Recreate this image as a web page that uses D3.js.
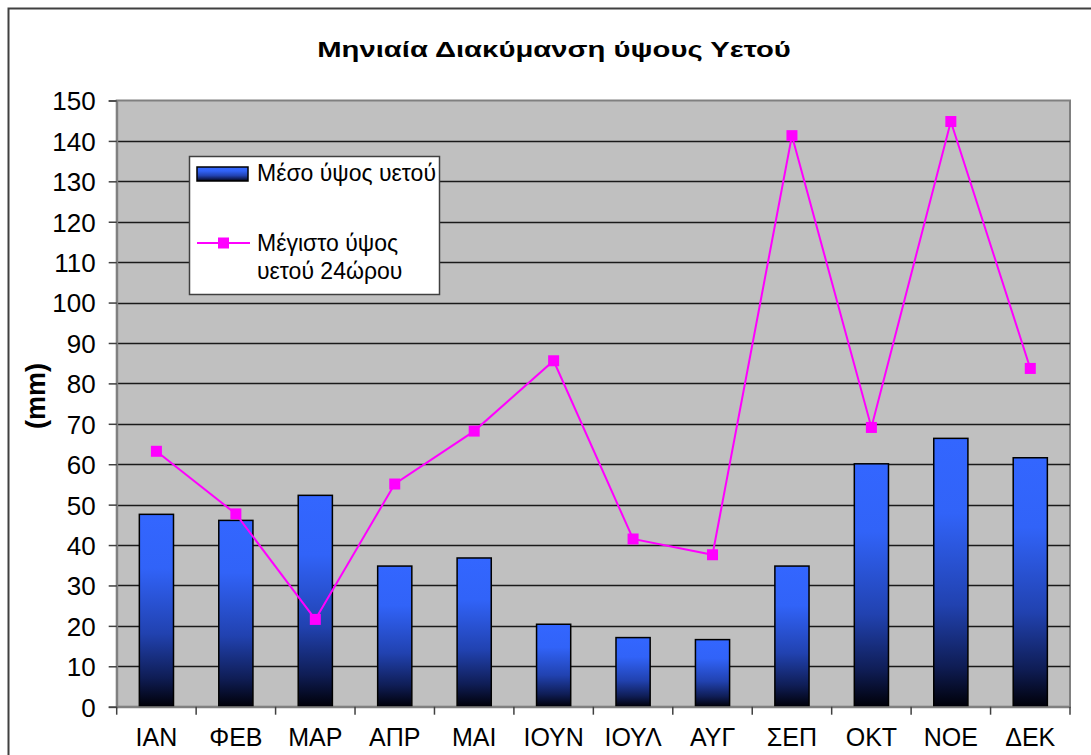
<!DOCTYPE html>
<html>
<head>
<meta charset="utf-8">
<script src="https://cdn.jsdelivr.net/npm/d3@7"></script>
<style>
  body { margin: 0; background: #fff; }
  svg { display: block; font-family: Arial, 'Liberation Sans', sans-serif; }
</style>
</head>
<body>
<svg id="chart"></svg>
<script>
const months = ['ΙΑΝ', 'ΦΕΒ', 'ΜΑΡ', 'ΑΠΡ', 'ΜΑΙ', 'ΙΟΥΝ', 'ΙΟΥΛ', 'ΑΥΓ', 'ΣΕΠ', 'ΟΚΤ', 'ΝΟΕ', 'ΔΕΚ'];
const meanRain = [47.6, 46.1, 52.3, 34.8, 36.8, 20.4, 17.1, 16.6, 34.8, 60.1, 66.4, 61.6];
const maxRain24h = [63.2, 47.7, 21.6, 55.1, 68.2, 85.6, 41.5, 37.6, 141.3, 69.1, 144.8, 83.7];
const yTicks = d3.range(0, 151, 10);

const title = 'Μηνιαία Διακύμανση ύψους Υετού';
const yTitle = '(mm)';
const legendBar = 'Μέσο ύψος υετού';
const legendLine = ['Μέγιστο ύψος', 'υετού 24ώρου'];

const width = 1091;
const height = 755;
const plotLeft = 116.7;
const plotRight = 1070;
const plotTop = 100.5;
const plotBottom = 706.7;

const svg = d3.select('#chart')
    .attr('width', width)
    .attr('height', height);

// outer frame of the chart object
svg.append('rect')
    .attr('x', 8.5).attr('y', 8.5)
    .attr('width', 1100).attr('height', 780)
    .attr('fill', '#fff')
    .attr('stroke', '#404040')
    .attr('stroke-width', 2);

const defs = svg.append('defs');
const grad = defs.append('linearGradient')
    .attr('id', 'barGrad')
    .attr('x1', 0).attr('y1', 0).attr('x2', 0).attr('y2', 1);
grad.append('stop').attr('offset', '0%').attr('stop-color', '#3366ff');
grad.append('stop').attr('offset', '28%').attr('stop-color', '#3163f8');
grad.append('stop').attr('offset', '62%').attr('stop-color', '#2142b0');
grad.append('stop').attr('offset', '85%').attr('stop-color', '#0f1d55');
grad.append('stop').attr('offset', '100%').attr('stop-color', '#000008');

const x = d3.scaleBand()
    .domain(months)
    .range([plotLeft, plotRight])
    .paddingInner(0.57)
    .paddingOuter(0.285);
const y = d3.scaleLinear()
    .domain([0, 150])
    .range([plotBottom, plotTop]);

// plot area
svg.append('rect')
    .attr('x', plotLeft).attr('y', plotTop)
    .attr('width', plotRight - plotLeft).attr('height', plotBottom - plotTop)
    .attr('fill', '#c0c0c0')
    .attr('stroke', '#808080')
    .attr('stroke-width', 2);

svg.append('g')
    .selectAll('line')
    .data(yTicks.slice(1, -1))
    .join('line')
    .attr('x1', plotLeft).attr('x2', plotRight)
    .attr('y1', (d) => Math.round(y(d)) + 0.5)
    .attr('y2', (d) => Math.round(y(d)) + 0.5)
    .attr('stroke', '#1a1a1a')
    .attr('stroke-width', 1.4);

// bars
svg.append('g')
    .selectAll('rect')
    .data(meanRain)
    .join('rect')
    .attr('x', (d, i) => x(months[i]))
    .attr('y', (d) => y(d))
    .attr('width', x.bandwidth())
    .attr('height', (d) => y(0) - y(d))
    .attr('fill', 'url(#barGrad)')
    .attr('stroke', '#000')
    .attr('stroke-width', 1.5);

// line of max 24h rain
const cx = (i) => x(months[i]) + x.bandwidth() / 2;
const line = d3.line()
    .x((d, i) => cx(i))
    .y((d) => y(d));
svg.append('path')
    .datum(maxRain24h)
    .attr('d', line)
    .attr('fill', 'none')
    .attr('stroke', '#ff00ff')
    .attr('stroke-width', 2);
svg.append('g')
    .selectAll('rect')
    .data(maxRain24h)
    .join('rect')
    .attr('x', (d, i) => cx(i) - 5.5)
    .attr('y', (d) => y(d) - 5.5)
    .attr('width', 11).attr('height', 11)
    .attr('fill', '#ff00ff');

// y axis
const yAxis = d3.axisLeft(y).tickValues(yTicks).tickSize(8).tickPadding(13);
const gy = svg.append('g')
    .attr('transform', `translate(${plotLeft},0)`)
    .call(yAxis);
gy.select('.domain').attr('stroke', '#808080').attr('stroke-width', 2);
gy.selectAll('.tick line').attr('stroke', '#404040').attr('stroke-width', 1.5);
gy.selectAll('.tick text')
    .attr('fill', '#000')
    .style('font-size', '26px')
    .attr('dy', '0.36em');

// x axis
const xAxis = d3.axisBottom(x).tickSize(0).tickPadding(22);
const gx = svg.append('g')
    .attr('transform', `translate(0,${plotBottom})`)
    .call(xAxis);
gx.select('.domain').attr('stroke', '#808080').attr('stroke-width', 2);
gx.selectAll('.tick text')
    .attr('fill', '#000')
    .style('font-size', '25px');
gx.append('g')
    .selectAll('line')
    .data(d3.range(months.length + 1))
    .join('line')
    .attr('x1', (i) => plotLeft + i * x.step())
    .attr('x2', (i) => plotLeft + i * x.step())
    .attr('y1', 0).attr('y2', 8)
    .attr('stroke', '#404040')
    .attr('stroke-width', 1.5);

// titles (the original's title glyphs are set wide)
svg.append('text')
    .attr('transform', 'translate(554,57) scale(1.33,1)')
    .attr('text-anchor', 'middle')
    .style('font-size', '22px')
    .style('font-weight', 'bold')
    .text(title);
svg.append('text')
    .attr('transform', 'translate(45,396) rotate(-90)')
    .attr('text-anchor', 'middle')
    .style('font-size', '27px')
    .style('font-weight', 'bold')
    .text(yTitle);

// legend
const gLegend = svg.append('g').attr('transform', 'translate(189,156)');
gLegend.append('rect')
    .attr('x', 0.5).attr('y', 0.5)
    .attr('width', 250).attr('height', 138)
    .attr('fill', '#fff')
    .attr('stroke', '#404040')
    .attr('stroke-width', 1.5);
gLegend.append('rect')
    .attr('x', 8).attr('y', 11)
    .attr('width', 51).attr('height', 14)
    .attr('fill', 'url(#barGrad)')
    .attr('stroke', '#000')
    .attr('stroke-width', 1.5);
gLegend.append('text')
    .attr('x', 68).attr('y', 25)
    .style('font-size', '23px')
    .text(legendBar);
gLegend.append('line')
    .attr('x1', 8).attr('x2', 61)
    .attr('y1', 87).attr('y2', 87)
    .attr('stroke', '#ff00ff')
    .attr('stroke-width', 2);
gLegend.append('rect')
    .attr('x', 29).attr('y', 81.5)
    .attr('width', 11).attr('height', 11)
    .attr('fill', '#ff00ff');
gLegend.selectAll('text.multi')
    .data(legendLine)
    .join('text')
    .attr('class', 'multi')
    .attr('x', 68)
    .attr('y', (d, i) => 95 + i * 28)
    .style('font-size', '23px')
    .text((d) => d);
</script>
</body>
</html>
